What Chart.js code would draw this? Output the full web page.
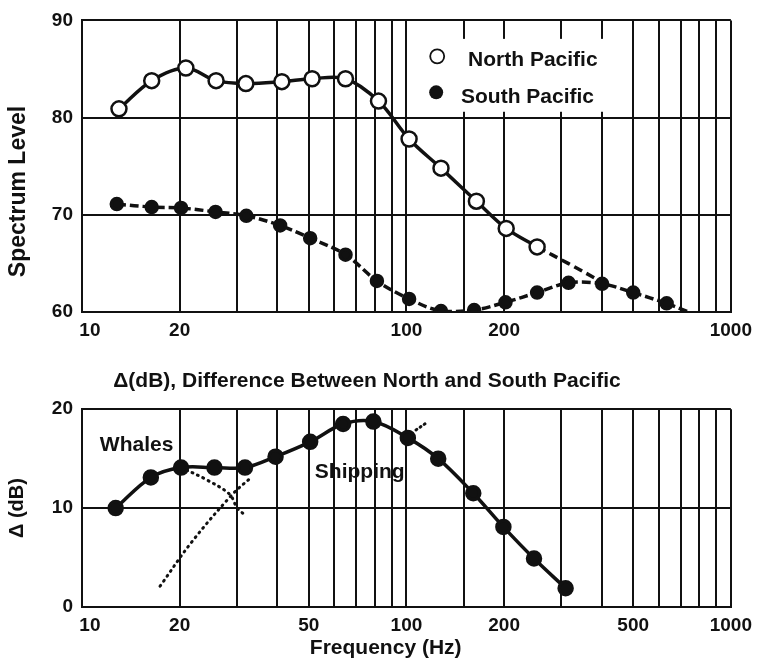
<!DOCTYPE html>
<html>
<head>
<meta charset="utf-8">
<script src="https://cdn.jsdelivr.net/npm/chart.js@4.4.0/dist/chart.umd.min.js"></script>
<style>
  body { margin: 0; background: #fff; }
  .box { position: relative; width: 759px; }
</style>
</head>
<body>
<div class="box" style="height:345px"><canvas id="spectrum"></canvas></div>
<div class="box" style="height:318px"><canvas id="delta"></canvas></div>
<script>
// values (frequency in Hz, level in dB)
const northFreq  = [13.0, 16.4, 20.9, 25.9, 32.0, 41.3, 51.2, 64.9, 82.0, 101.9, 127.8, 164.3, 203, 252.8]
const northLevel = [80.9, 83.8, 85.1, 83.8, 83.5, 83.7, 84.0, 84.0, 81.7, 77.8, 74.8, 71.4, 68.6, 66.7]
// dashed continuation of the north curve after the last circle
const northTailFreq  = [252.8, 315, 400]
const northTailLevel = [66.7, 65.0, 63.1]

const southFreq  = [12.8, 16.4, 20.2, 25.8, 32.1, 40.8, 50.5, 64.9, 81.1, 101.9, 127.8, 161.7, 202, 252.8, 316, 401, 500, 634]
const southLevel = [71.1, 70.8, 70.7, 70.3, 69.9, 68.9, 67.6, 65.9, 63.2, 61.35, 60.1, 60.2, 61.0, 62.0, 63.0, 62.9, 62.0, 60.9]
const southTailFreq  = [634, 742]
const southTailLevel = [60.9, 60.0]

const deltaFreq  = [12.7, 16.3, 20.2, 25.6, 31.8, 39.5, 50.5, 63.8, 79.1, 101, 125.3, 160.7, 199, 247.3, 309.5]
const deltaLevel = [10.0, 13.1, 14.1, 14.1, 14.1, 15.2, 16.7, 18.5, 18.75, 17.1, 15.0, 11.5, 8.1, 4.9, 1.9]

const whalesFreq  = [20.2, 24.1, 28.5, 30.1, 31.8]
const whalesLevel = [14.1, 12.9, 11.4, 10.0, 9.3]
const shippingFreq  = [17.4, 21.7, 29.1, 33.5]
const shippingLevel = [2.1, 6.5, 11.4, 13.2]
const shippingTopFreq  = [107, 115]
const shippingTopLevel = [17.9, 18.6]

const topTicks = [10, 20, 100, 200, 1000]
const bottomTicks = [10, 20, 50, 100, 200, 500, 1000]

const ink = '#111'
const tickFont = { family: 'Liberation Sans', weight: 'bold', size: 19 }
const textFont = 'bold 21px "Liberation Sans"'

function pts(xs, ys) {
    return xs.map((x, i) => ({ x: x, y: ys[i] }))
}

function xAxis(labels, height) {
    return {
        type: 'logarithmic',
        min: 10,
        max: 1000,
        grid: { color: ink, lineWidth: 2, drawTicks: false },
        border: { color: ink, width: 2 },
        ticks: {
            autoSkip: false, maxRotation: 0, padding: 7, color: ink, font: tickFont,
            // the first label sits a little right of its line in the original
            callback: v => labels.includes(v) ? (v === 10 ? '   10' : String(v)) : ''
        },
        afterFit: s => { s.height = height }
    }
}

function yAxis(min, max, title) {
    return {
        min: min,
        max: max,
        grid: { color: ink, lineWidth: 2, drawTicks: false },
        border: { color: ink, width: 2 },
        ticks: { stepSize: 10, padding: 9, color: ink, font: tickFont },
        title: title,
        afterFit: s => { s.width = 82 }
    }
}

const lineStyle = { borderColor: ink, borderWidth: 3.5, tension: 0.35, fill: false }

// white legend box in the upper right and the rotated y title
const spectrumDecor = {
    id: 'spectrumDecor',
    beforeDatasetsDraw(chart) {
        const { ctx, scales: { x, y } } = chart
        ctx.save()
        const l = x.getPixelForValue(100) + 2, r = x.getPixelForValue(465)
        const t = y.getPixelForValue(88.1), b = y.getPixelForValue(80.6)
        ctx.fillStyle = '#fff'
        ctx.fillRect(l, t, r - l, b - t)

        ctx.lineWidth = 1.8
        ctx.strokeStyle = ink
        ctx.beginPath()
        ctx.arc(x.getPixelForValue(124.4), y.getPixelForValue(86.3), 7, 0, Math.PI * 2)
        ctx.fillStyle = '#fff'
        ctx.fill()
        ctx.stroke()
        ctx.beginPath()
        ctx.arc(x.getPixelForValue(123.5), y.getPixelForValue(82.6), 7, 0, Math.PI * 2)
        ctx.fillStyle = ink
        ctx.fill()

        ctx.font = textFont
        ctx.textAlign = 'left'
        ctx.textBaseline = 'alphabetic'
        ctx.fillText('North Pacific', x.getPixelForValue(154.9), y.getPixelForValue(85.3))
        ctx.fillText('South Pacific', x.getPixelForValue(147.3), y.getPixelForValue(81.5))
        ctx.restore()
    },
    afterDraw(chart) {
        const ctx = chart.ctx
        ctx.save()
        ctx.translate(18.5, 191.5)
        ctx.rotate(-Math.PI / 2)
        ctx.font = 'bold 23px "Liberation Sans"'
        ctx.fillStyle = ink
        ctx.textAlign = 'center'
        ctx.textBaseline = 'middle'
        ctx.fillText('Spectrum Level', 0, 0)
        ctx.restore()
    }
}

const deltaDecor = {
    id: 'deltaDecor',
    afterDraw(chart) {
        const { ctx, scales: { x, y } } = chart
        ctx.save()
        ctx.font = textFont
        ctx.fillStyle = ink
        ctx.textAlign = 'left'
        ctx.textBaseline = 'alphabetic'
        ctx.fillText('Whales', x.getPixelForValue(11.35), y.getPixelForValue(15.77))
        ctx.fillText('Shipping', x.getPixelForValue(52.2), y.getPixelForValue(13.0))
        ctx.textAlign = 'center'
        ctx.fillText('Frequency (Hz)', 385.7, 309)
        ctx.restore()
    }
}

new Chart(document.getElementById('spectrum'), {
    type: 'line',
    data: {
        datasets: [
            {
                label: 'North Pacific', data: pts(northFreq, northLevel), ...lineStyle,
                pointRadius: 7.5, pointBorderWidth: 2.5, pointBackgroundColor: '#fff', pointBorderColor: ink
            },
            {
                label: 'North tail', data: pts(northTailFreq, northTailLevel), ...lineStyle,
                borderDash: [9, 5], pointRadius: 0
            },
            {
                label: 'South Pacific', data: pts(southFreq, southLevel), ...lineStyle,
                borderDash: [9, 4], pointRadius: 5.5, pointBackgroundColor: ink, pointBorderColor: ink
            },
            {
                label: 'South tail', data: pts(southTailFreq, southTailLevel), ...lineStyle,
                borderDash: [9, 4], pointRadius: 0
            }
        ]
    },
    options: {
        responsive: true,
        maintainAspectRatio: false,
        animation: false,
        layout: { padding: { top: 16, right: 25, bottom: 0, left: 0 } },
        plugins: { legend: { display: false }, tooltip: { enabled: false } },
        scales: {
            x: xAxis(topTicks, 33),
            y: yAxis(60, 90, { display: false })
        }
    },
    plugins: [spectrumDecor]
})

new Chart(document.getElementById('delta'), {
    type: 'line',
    data: {
        datasets: [
            {
                label: 'Δ (dB)', data: pts(deltaFreq, deltaLevel), ...lineStyle,
                pointRadius: 6.5, pointBackgroundColor: ink, pointBorderColor: ink
            },
            {
                label: 'Whales', data: pts(whalesFreq, whalesLevel), ...lineStyle, borderWidth: 3,
                borderDash: [1, 5], borderCapStyle: 'round', pointRadius: 0
            },
            {
                label: 'Shipping', data: pts(shippingFreq, shippingLevel), ...lineStyle, borderWidth: 3,
                borderDash: [1, 5], borderCapStyle: 'round', pointRadius: 0
            },
            {
                label: 'Shipping top', data: pts(shippingTopFreq, shippingTopLevel), ...lineStyle, borderWidth: 3,
                borderDash: [1, 4], borderCapStyle: 'round', pointRadius: 0
            }
        ]
    },
    options: {
        responsive: true,
        maintainAspectRatio: false,
        animation: false,
        layout: { padding: { top: 0, right: 25, bottom: 0, left: 0 } },
        plugins: {
            legend: { display: false },
            tooltip: { enabled: false },
            title: {
                display: true,
                text: 'Δ(dB), Difference Between North and South Pacific',
                color: ink,
                font: { family: 'Liberation Sans', weight: 'bold', size: 21 },
                padding: { top: 24, bottom: 15 }
            }
        },
        scales: {
            x: xAxis(bottomTicks, 56),
            y: yAxis(0, 20, {
                display: true, text: 'Δ (dB)', color: ink,
                font: { family: 'Liberation Sans', weight: 'bold', size: 20 },
                padding: { top: 5, bottom: 0 }
            })
        }
    },
    plugins: [deltaDecor]
})
</script>
</body>
</html>
